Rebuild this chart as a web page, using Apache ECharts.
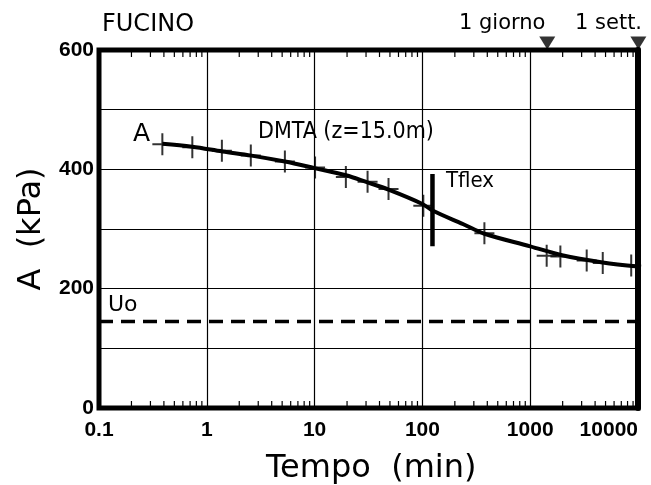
<!DOCTYPE html>
<html>
<head>
<meta charset="utf-8">
<script src="https://cdn.jsdelivr.net/npm/echarts@6/dist/echarts.min.js"></script>
<style>html,body{margin:0;padding:0;background:#fff}#c{width:651px;height:485px}</style>
</head>
<body>
<div id="c"></div>
<script>
// Fitted DMTA curve (time in min, A in kPa)
var curveTime = [0.387, 0.73, 1.4, 2.6, 5.3, 10, 19.5, 31, 48.5, 100, 124, 240, 376, 1000, 1977, 4700, 10000];
var curveA    = [443, 438, 430, 423, 413, 402, 390, 378, 366, 342, 331, 308, 292, 271, 256, 244, 237];
// Measured points (crosses)
var pointTime = [0.387, 0.734, 1.38, 2.56, 5.3, 10.1, 19.5, 31, 48.5, 102, 376, 1422, 1905, 3343, 4710, 8650];
var pointA    = [442, 437, 431, 423, 413, 403, 387, 379, 367, 339, 293, 255, 254, 247, 243, 239];
// Uo level
var uoValue = 145;
// Tflex bar
var tflexTime = 124;
var tflexRange = [392, 271];
// Top markers: 1 day, 1 week
var markerTime = [1440, 10080];
var markerLabels = ['1 giorno', '1 sett.'];
// Axes
var xMin = 0.1, xMax = 10000;
var yMin = 0, yMax = 600, yStep = 100, yLabelStep = 200;
var decades = [0.1, 1, 10, 100, 1000];
var minorMult = [2, 3, 4, 5, 6, 7, 8, 9];

var minorTicks = [];
decades.forEach(function (d) { minorMult.forEach(function (m) { minorTicks.push([d * m, 0]); minorTicks.push([d * m, 1]); }); });

var chart = echarts.init(document.getElementById('c'));
var tickFont = { fontFamily: '"Liberation Sans", Arial, sans-serif', fontWeight: 'bold', fontSize: 21, color: '#000' };

chart.setOption({
  animation: false,
  backgroundColor: '#fff',
  grid: { left: 99, right: 13, top: 50, bottom: 77, show: true, borderColor: '#000', borderWidth: 5, backgroundColor: 'transparent' },
  xAxis: {
    type: 'log', logBase: 10, min: xMin, max: xMax,
    axisLine: { show: false },
    axisTick: { show: false },
    splitLine: { show: true, lineStyle: { color: '#000', width: 1.2 } },
    axisLabel: Object.assign({ margin: 12, alignMaxLabel: 'right', formatter: function (v) { return String(v); } }, tickFont)
  },
  yAxis: [{
    type: 'value', min: yMin, max: yMax, interval: yStep,
    axisLine: { show: false },
    axisTick: { show: false },
    splitLine: { show: true, lineStyle: { color: '#000', width: 1.2 } },
    axisLabel: Object.assign({ margin: 5, formatter: function (v) { return v % yLabelStep === 0 ? String(v) : ''; } }, tickFont),
    name: 'A  (kPa)', nameLocation: 'middle', nameGap: 48, nameRotate: 90,
    nameTextStyle: { fontFamily: 'DejaVu Sans', fontSize: 32, color: '#000' }
  }, {
    type: 'value', min: yMin, max: yMax, position: 'right',
    axisLine: { show: true, lineStyle: { color: '#000', width: 6 } },
    axisTick: { show: false }, axisLabel: { show: false }, splitLine: { show: false }
  }],
  graphic: [
    { type: 'text', left: 102, top: 13, style: { text: 'FUCINO', font: '24px "DejaVu Sans"', fill: '#000' } },
    { type: 'text', left: 459, top: 13, style: { text: markerLabels[0], font: '21px "DejaVu Sans"', fill: '#000' } },
    { type: 'text', left: 575, top: 13, style: { text: markerLabels[1], font: '21px "DejaVu Sans"', fill: '#000' } },
    { type: 'text', left: 133, top: 122, style: { text: 'A', font: '25px "DejaVu Sans"', fill: '#000' } },
    { type: 'text', left: 258, top: 121, style: { text: 'DMTA (z=15.0m)', font: '23px "DejaVu Sans Condensed"', fill: '#000' } },
    { type: 'text', left: 446, top: 170, style: { text: 'Tflex', font: '22px "DejaVu Sans Condensed"', fill: '#000' } },
    { type: 'text', left: 108, top: 294, style: { text: 'Uo', font: '22px "DejaVu Sans"', fill: '#000' } },
    { type: 'text', left: 266, top: 453, style: { text: 'Tempo  (min)', font: '32px "DejaVu Sans"', fill: '#000' } }
  ],
  series: [
    {
      type: 'line', name: 'Uo', data: [[xMin, uoValue], [xMax, uoValue]], showSymbol: false,
      lineStyle: { color: '#000', width: 3.5, type: [14, 8] }, z: 3
    },
    {
      type: 'line', name: 'DMTA', smooth: 0.35, showSymbol: false,
      data: curveTime.map(function (t, i) { return [t, curveA[i]]; }),
      lineStyle: { color: '#000', width: 4 }, z: 4
    },
    {
      type: 'scatter', name: 'punti',
      data: pointTime.map(function (t, i) { return [t, pointA[i]]; }),
      symbol: 'path://M9,0h2v22h-2zM0,10h20v2h-20z', symbolSize: [20, 22],
      itemStyle: { color: '#000' }, z: 5
    },
    {
      type: 'line', name: 'Tflex', showSymbol: false,
      data: [[tflexTime, tflexRange[0]], [tflexTime, tflexRange[1]]],
      lineStyle: { color: '#000', width: 4.5 }, z: 5
    },
    {
      type: 'scatter', name: 'marker', clip: false,
      data: markerTime.map(function (t) { return [t, yMax]; }),
      symbol: 'triangle', symbolRotate: 180, symbolSize: [16, 13], symbolOffset: [0, -7],
      itemStyle: { color: '#000' }, z: 6
    },
    {
      type: 'custom', name: 'minorTicks', clip: false, data: minorTicks,
      renderItem: function (params, api) {
        var t = api.value(0), top = api.value(1) === 1;
        var p = api.coord([t, top ? yMax : yMin]);
        var y2 = top ? p[1] + 7 : p[1] - 7;
        return { type: 'line', shape: { x1: p[0], y1: p[1], x2: p[0], y2: y2 }, style: { stroke: '#000', lineWidth: 1.2 } };
      }, z: 2
    }
  ]
});
</script>
</body>
</html>
